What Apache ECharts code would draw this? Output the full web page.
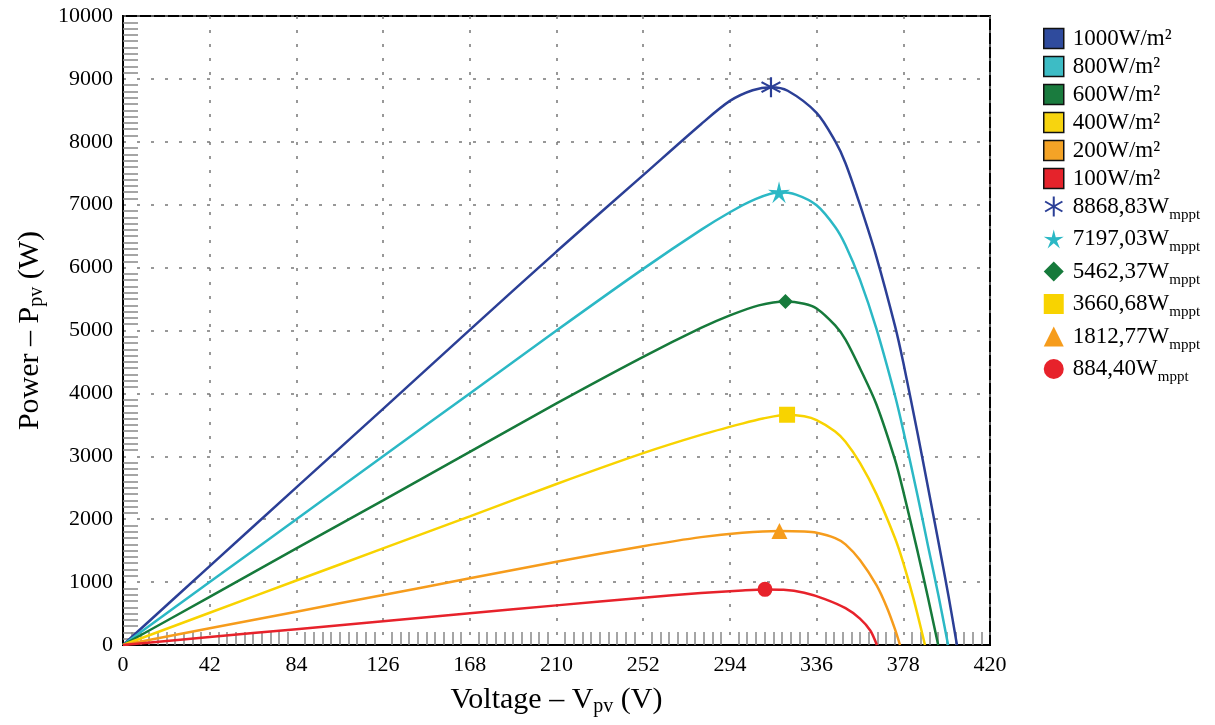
<!DOCTYPE html>
<html>
<head>
<meta charset="utf-8">
<script src="https://cdn.jsdelivr.net/npm/echarts@6/dist/echarts.min.js"></script>
<style>
html,body{margin:0;padding:0;background:#fff;}
#chart{width:1215px;height:725px;}
</style>
</head>
<body>
<div id="chart"></div>
<script>
// ---- data ----
const seriesNames = ['1000W/m²', '800W/m²', '600W/m²', '400W/m²', '200W/m²', '100W/m²'];

const v1000 = [0, 42, 84, 126, 168, 210, 252, 280, 294, 305, 313.9, 322, 336, 345, 350, 357, 365, 374, 378, 385, 390, 395, 400, 404];
const p1000 = [0, 1255, 2505, 3755, 5010, 6255, 7470, 8280, 8650, 8820, 8869, 8812, 8460, 8010, 7660, 7000, 6168, 5070, 4490, 3350, 2500, 1640, 760, 0];

const v800 = [0, 42, 84, 126, 168, 210, 252, 280, 294, 305, 317.8, 326, 336, 345, 350, 357, 365, 374, 378, 385, 390, 395, 399.7];
const p800 = [0, 1000, 2000, 3000, 4000, 5000, 5980, 6600, 6880, 7070, 7197, 7160, 6990, 6645, 6355, 5809, 5025, 3963, 3411, 2361, 1571, 790, 0];

const v600 = [0, 42, 84, 126, 168, 210, 252, 280, 294, 308, 320.9, 330, 336, 345, 350, 357, 365, 374, 378, 385, 390, 394.9];
const p600 = [0, 765, 1535, 2300, 3070, 3840, 4580, 5040, 5240, 5400, 5462, 5425, 5350, 5080, 4855, 4400, 3824, 2942, 2442, 1476, 746, 0];

const v400 = [0, 42, 84, 126, 168, 210, 252, 280, 300, 310, 321.7, 330, 336, 345, 350, 357, 365, 374, 378, 383, 388.5];
const p400 = [0, 512, 1025, 1535, 2045, 2560, 3050, 3340, 3520, 3600, 3661, 3636, 3576, 3396, 3231, 2895, 2399, 1697, 1305, 730, 0];

const v200 = [0, 42, 84, 126, 168, 210, 252, 280, 300, 318, 330, 336, 345, 350, 357, 365, 370, 374, 376.4];
const p200 = [0, 265, 530, 795, 1060, 1325, 1570, 1715, 1785, 1813, 1805, 1785, 1700, 1600, 1351, 951, 601, 249, 0];

const v100 = [0, 42, 84, 126, 168, 210, 252, 280, 300, 311, 320, 330, 340, 350, 357, 362, 365.2];
const p100 = [0, 126, 252, 378, 504, 630, 752, 825, 868, 884, 878, 830, 730, 585, 420, 230, 0];

const mpptV = [313.9, 317.8, 320.9, 321.7, 318, 311];
const mpptP = [8868.83, 7197.03, 5462.37, 3660.68, 1812.77, 884.40];
const mpptLabels = ['8868,83', '7197,03', '5462,37', '3660,68', '1812,77', '884,40'];

const xTicks = [0, 42, 84, 126, 168, 210, 252, 294, 336, 378, 420];
const yTicks = [0, 1000, 2000, 3000, 4000, 5000, 6000, 7000, 8000, 9000, 10000];

// ---- styling ----
const lineColors = ['#2B3F96', '#2BB8C5', '#167A3B', '#F8D300', '#F69C1C', '#E7222B'];
const legendColors = ['#2F4B9D', '#3DBCC5', '#1A7B3E', '#F7D40F', '#F4A326', '#E5232B'];
const FONT = 'Liberation Serif';

const asteriskPath = 'path://M9,0 L11,0 L11,20 L9,20 Z ' +
  'M0.84,5.87 L1.84,4.13 L19.16,14.13 L18.16,15.87 Z ' +
  'M1.84,15.87 L0.84,14.13 L18.16,4.13 L19.16,5.87 Z';
const starPath = 'path://M10,0 L11.88,7.41 L19.51,6.91 L13.04,10.99 L15.88,18.09 L10,13.2 L4.12,18.09 L6.96,10.99 L0.49,6.91 L8.12,7.41 Z';
const mpptSymbols = [asteriskPath, starPath, 'diamond', 'rect', 'triangle', 'circle'];
const mpptSizes = [20, 22, 15, 16, 16, 15];

const curves = [[v1000, p1000], [v800, p800], [v600, p600], [v400, p400], [v200, p200], [v100, p100]];

const series = [];
curves.forEach((c, i) => {
  series.push({
    name: seriesNames[i],
    type: 'line',
    data: c[0].map((v, k) => [v, c[1][k]]),
    smooth: 0.3,
    showSymbol: false,
    symbol: 'none',
    lineStyle: { color: lineColors[i], width: 2.5 },
    itemStyle: { color: legendColors[i] },
    z: 3
  });
});
mpptV.forEach((v, i) => {
  series.push({
    name: mpptLabels[i],
    type: 'scatter',
    data: [[v, mpptP[i]]],
    symbol: mpptSymbols[i],
    symbolSize: mpptSizes[i],
    itemStyle: { color: lineColors[i], opacity: 1 },
    z: 5
  });
});

const legendData = [];
seriesNames.forEach((n, i) => legendData.push({
  name: n, icon: 'rect',
  itemStyle: { color: legendColors[i], borderColor: '#111', borderWidth: 1.5 }
}));
mpptLabels.forEach((n, i) => legendData.push({
  name: n, icon: mpptSymbols[i],
  itemStyle: { color: lineColors[i], borderWidth: 0 }
}));

const chart = echarts.init(document.getElementById('chart'), null, { renderer: 'canvas' });
chart.setOption({
  animation: false,
  backgroundColor: '#fff',
  textStyle: { fontFamily: FONT },
  grid: {
    left: 123, right: 225, top: 16, bottom: 80,
    show: true, borderColor: '#000', borderWidth: 2, backgroundColor: 'transparent'
  },
  xAxis: {
    type: 'value', min: xTicks[0], max: xTicks[xTicks.length - 1], interval: 42,
    name: '{a|Voltage – V}{s|pv}{a| (V)}',
    nameLocation: 'middle', nameGap: 38,
    nameTextStyle: {
      rich: {
        a: { fontFamily: FONT, fontSize: 30, color: '#000' },
        s: { fontFamily: FONT, fontSize: 20, color: '#000', padding: [14, 0, 0, 0] }
      }
    },
    axisLine: { show: true, lineStyle: { color: '#000', width: 2 } },
    axisTick: { show: false },
    minorTick: { show: true, splitNumber: 10, length: -13, lineStyle: { color: '#888', width: 1.5 } },
    axisLabel: { fontFamily: FONT, fontSize: 22, color: '#000', margin: 9,
      formatter: v => xTicks.indexOf(v) >= 0 ? String(v) : '' },
    splitLine: { show: true, lineStyle: { color: '#777', width: 1.5, type: [3, 11] } },
    minorSplitLine: { show: false }
  },
  yAxis: {
    type: 'value', min: yTicks[0], max: yTicks[yTicks.length - 1], interval: 1000,
    name: '{a|Power – P}{s|pv}{a| (W)}',
    nameLocation: 'middle', nameGap: 72,
    nameTextStyle: {
      rich: {
        a: { fontFamily: FONT, fontSize: 30, color: '#000' },
        s: { fontFamily: FONT, fontSize: 20, color: '#000', padding: [14, 0, 0, 0] }
      }
    },
    axisLine: { show: true, lineStyle: { color: '#000', width: 2 } },
    axisTick: { show: false },
    minorTick: { show: true, splitNumber: 10, length: -15, lineStyle: { color: '#888', width: 1.5 } },
    axisLabel: { fontFamily: FONT, fontSize: 22, color: '#000', margin: 10,
      formatter: v => yTicks.indexOf(v) >= 0 ? String(v) : '' },
    splitLine: { show: true, lineStyle: { color: '#777', width: 1.5, type: [3, 11] } },
    minorSplitLine: { show: false }
  },
  legend: {
    orient: 'vertical', left: 1043, top: 27, padding: 0,
    itemWidth: 20, itemHeight: 20, itemGap: 5,
    selectedMode: false,
    data: legendData,
    formatter: name => name.indexOf('W/m') >= 0 ? '{a|' + name + '}' : '{a|' + name + 'W}{s|mppt}',
    textStyle: {
      fontFamily: FONT, color: '#000', fontSize: 23, padding: [0, 0, 0, 4],
      rich: {
        a: { fontFamily: FONT, fontSize: 23, color: '#000' },
        s: { fontFamily: FONT, fontSize: 15, color: '#000', padding: [17, 0, 0, 0] }
      }
    }
  },
  series: series
});
</script>
</body>
</html>
